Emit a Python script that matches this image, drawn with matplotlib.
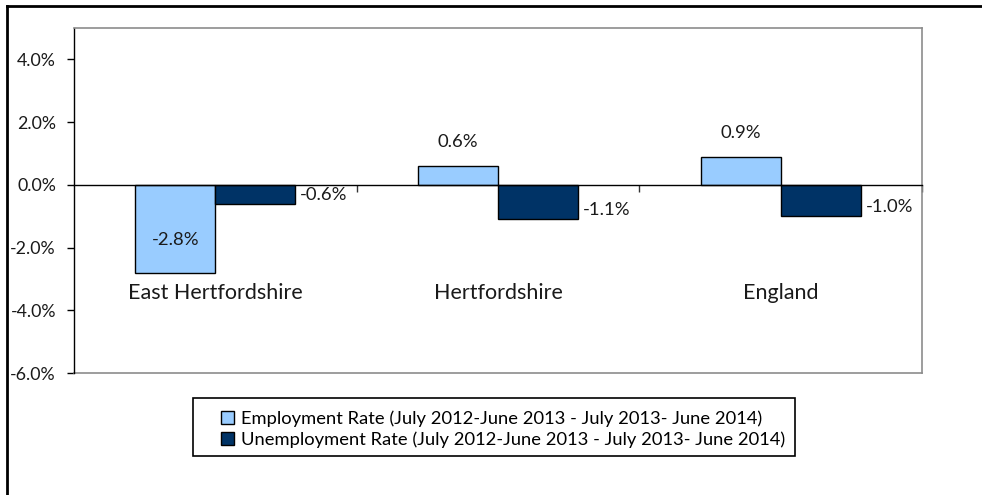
import matplotlib
matplotlib.use("Agg")
import matplotlib.pyplot as plt
from matplotlib.lines import Line2D
from matplotlib.patches import Patch, Rectangle
from matplotlib.ticker import FuncFormatter, FixedLocator
import numpy as np

# ---- data -------------------------------------------------------------
regions = ["East Hertfordshire", "Hertfordshire", "England"]
employment_change = [-2.8, 0.6, 0.9]
unemployment_change = [-0.6, -1.1, -1.0]
series_names = [
    "Employment Rate (July 2012-June 2013 - July 2013- June 2014)",
    "Unemployment Rate (July 2012-June 2013 - July 2013- June 2014)",
]
y_ticks = [-6.0, -4.0, -2.0, 0.0, 2.0, 4.0]

# ---- style ------------------------------------------------------------
FONT = ["Lato", "DejaVu Sans"]
plt.rcParams["font.family"] = FONT
LIGHT = "#99CCFF"
DARK = "#003366"
GRID_GREY = "#8c8c8c"
TEXT = "#1a1a1a"
W, H = 982, 495

fig = plt.figure(figsize=(W / 100, H / 100), dpi=100)
fig.patch.set_facecolor("white")

# plot area in pixel box: x 74..922, y 28..373
left, right, top, bottom = 74, 922, 28, 373
ax = fig.add_axes([left / W, 1 - bottom / H, (right - left) / W, (bottom - top) / H])

x = np.arange(len(regions))
bw = 0.283
ax.bar(x - bw / 2, employment_change, bw, color=LIGHT, edgecolor="black", linewidth=1.0, zorder=3)
ax.bar(x + bw / 2, unemployment_change, bw, color=DARK, edgecolor="black", linewidth=1.0, zorder=3)

ax.set_xlim(-0.5, len(regions) - 0.5)
ax.set_ylim(-6.0, 5.0)

# y axis
ax.yaxis.set_major_locator(FixedLocator(y_ticks))
ax.yaxis.set_major_formatter(FuncFormatter(lambda v, p: f"{v:.1f}%"))
ax.tick_params(axis="y", direction="out", length=5, width=1, color="black",
               labelsize=12.8, pad=8, labelcolor=TEXT)

# x axis sits on zero, with ticks at category boundaries
ax.spines["bottom"].set_position(("data", 0))
ax.spines["bottom"].set_color("black")
ax.spines["bottom"].set_linewidth(1.0)
ax.spines["bottom"].set_zorder(4)
ax.xaxis.set_major_locator(FixedLocator(list(x + 0.5)))
ax.tick_params(axis="x", direction="out", length=5, width=1, color="#333333", labelbottom=False)

ax.spines["left"].set_color("black")
ax.spines["left"].set_linewidth(1.0)
for s in ("top", "right"):
    ax.spines[s].set_color(GRID_GREY)
    ax.spines[s].set_linewidth(1.2)
# lower border of the plot area
ax.plot([0, 1], [0, 0], transform=ax.transAxes, color=GRID_GREY, lw=1.2, clip_on=False, zorder=2)

# category names placed low in the plot area
for xi, name in zip(x, regions):
    ax.text(xi, -3.45, name, ha="center", va="center", fontsize=15.5, color=TEXT)

# value labels
def pct(v):
    return f"{v:.1f}%"

for xi, v in zip(x, employment_change):
    dy = 24 if v >= 0 else 33
    ax.annotate(pct(v), xy=(xi - bw / 2, v), xytext=(0, dy), textcoords="offset pixels",
                ha="center", va="center", fontsize=13.3, color=TEXT, zorder=5)
for xi, v in zip(x, unemployment_change):
    ax.annotate(pct(v), xy=(xi + bw, v), xytext=(5, 9), textcoords="offset pixels",
                ha="left", va="center", fontsize=13.3, color=TEXT, zorder=5)

# legend with a plain rectangular frame
lx0, lx1, ly0, ly1 = 193, 795, 398, 456
fig.add_artist(Rectangle((lx0 / W, 1 - ly1 / H), (lx1 - lx0) / W, (ly1 - ly0) / H,
                         transform=fig.transFigure, facecolor="white", edgecolor="black", lw=1.2))
handles = [Patch(facecolor=LIGHT, edgecolor="black", lw=1.0),
           Patch(facecolor=DARK, edgecolor="black", lw=1.0)]
fig.legend(handles, series_names, loc="center left",
           bbox_to_anchor=(221 / W, 1 - ((ly0 + ly1) / 2 + 2) / H),
           frameon=False, fontsize=13.2, handlelength=0.7, handleheight=0.7,
           handletextpad=0.4, labelspacing=0.22, borderpad=0, borderaxespad=0)

# outer chart border (top and left edges)
fig.add_artist(Line2D([7 / W, 1.0], [1 - 6 / H, 1 - 6 / H], transform=fig.transFigure, color="black", lw=2))
fig.add_artist(Line2D([7 / W, 7 / W], [0.0, 1 - 6 / H], transform=fig.transFigure, color="black", lw=2))

fig.savefig("out.png", dpi=100, facecolor="white")
